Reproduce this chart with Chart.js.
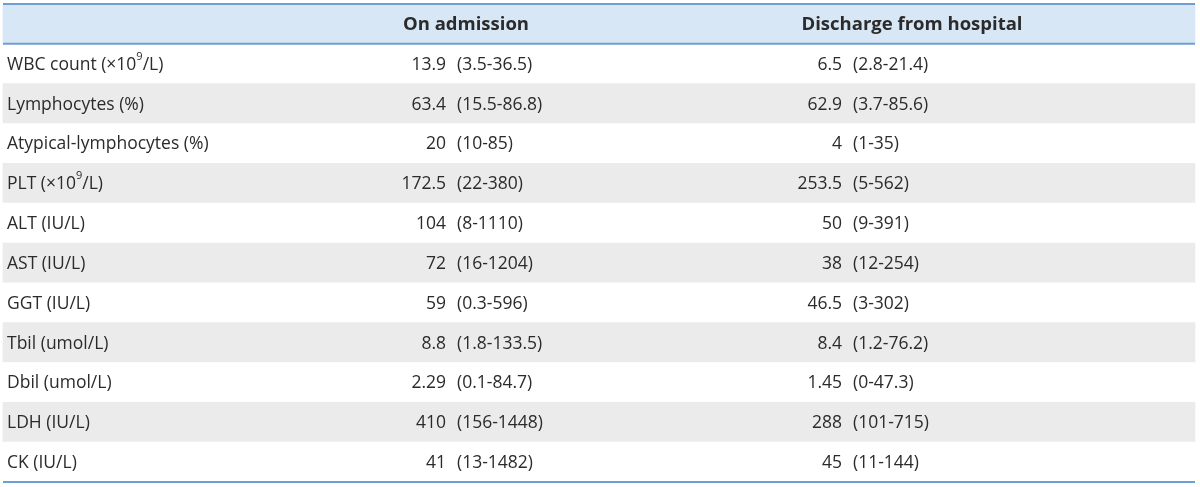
<!DOCTYPE html>
<html>
<head>
<meta charset="utf-8">
<script src="https://cdn.jsdelivr.net/npm/chart.js@4"></script>
<style>
  html, body { margin:0; padding:0; background:#fff; }
  #wrap { width:1200px; height:487px; }
</style>
</head>
<body>
<div id="wrap"><canvas id="myCan"></canvas></div>
<script>
// table content
var headers = ['On admission', 'Discharge from hospital'];
var rowLabels = ['WBC count (\u00d710\u2079/L)', 'Lymphocytes (%)', 'Atypical-lymphocytes (%)', 'PLT (\u00d710\u2079/L)',
  'ALT (IU/L)', 'AST (IU/L)', 'GGT (IU/L)', 'Tbil (umol/L)', 'Dbil (umol/L)', 'LDH (IU/L)', 'CK (IU/L)'];
var admMedian = [13.9, 63.4, 20, 172.5, 104, 72, 59, 8.8, 2.29, 410, 41];
var admLow    = [3.5, 15.5, 10, 22, 8, 16, 0.3, 1.8, 0.1, 156, 13];
var admHigh   = [36.5, 86.8, 85, 380, 1110, 1204, 596, 133.5, 84.7, 1448, 1482];
var disMedian = [6.5, 62.9, 4, 253.5, 50, 38, 46.5, 8.4, 1.45, 288, 45];
var disLow    = [2.8, 3.7, 1, 5, 9, 12, 3, 1.2, 0, 101, 11];
var disHigh   = [21.4, 85.6, 35, 562, 391, 254, 302, 76.2, 47.3, 715, 144];

var txtColor = '#2b2b2b';
var lineColor = '#6f9fd0';
var headFill = '#d8e7f6';
var shadeFill = '#ebebeb';
var fontFam = '"Open Sans", sans-serif';
var bodySize = 17.5, headSize = 18.5;

// column anchors (x scale runs in pixels 0..1200)
var colLabel = 7, admValX = 446, admRngX = 457, disValX = 842, disRngX = 853;
var admHeadX = 466, disHeadX = 912;
var tableL = 3, tableR = 1195;

var cats = [''].concat(rowLabels);
var bandData = cats.map(function(c, i){ return [tableL, tableR]; });
var bandColors = cats.map(function(c, i){
  if (i === 0) return headFill;
  return (i % 2 === 0) ? shadeFill : '#ffffff';
});

function drawLabel(ctx, txt, x, y) {
  // superscript 9 drawn smaller and raised
  var parts = txt.split('\u2079');
  ctx.textAlign = 'left';
  var cx = x;
  parts.forEach(function(p, k){
    ctx.font = bodySize + 'px ' + fontFam;
    ctx.fillText(p, cx, y);
    cx += ctx.measureText(p).width;
    if (k < parts.length - 1) {
      ctx.font = '11px ' + fontFam;
      ctx.fillText('9', cx, y - 8);
      cx += ctx.measureText('9').width;
    }
  });
}

var tablePlugin = {
  id: 'tableText',
  afterDatasetsDraw: function(chart) {
    var ctx = chart.ctx, xs = chart.scales.x, ys = chart.scales.y;
    var band = ys.getPixelForValue(1) - ys.getPixelForValue(0);
    ctx.save();
    ctx.fillStyle = txtColor;
    ctx.textBaseline = 'middle';

    // header
    var hy = ys.getPixelForValue(0) + 1;
    ctx.font = 'bold ' + headSize + 'px ' + fontFam;
    ctx.textAlign = 'center';
    ctx.fillText(headers[0], xs.getPixelForValue(admHeadX), hy);
    ctx.fillText(headers[1], xs.getPixelForValue(disHeadX), hy);

    for (var i = 0; i < rowLabels.length; i++) {
      var y = ys.getPixelForValue(i + 1) + 1;
      drawLabel(ctx, rowLabels[i], xs.getPixelForValue(colLabel), y);
      ctx.font = bodySize + 'px ' + fontFam;
      ctx.textAlign = 'right';
      ctx.fillText(String(admMedian[i]), xs.getPixelForValue(admValX), y);
      ctx.fillText(String(disMedian[i]), xs.getPixelForValue(disValX), y);
      ctx.textAlign = 'left';
      ctx.fillText('(' + admLow[i] + '-' + admHigh[i] + ')', xs.getPixelForValue(admRngX), y);
      ctx.fillText('(' + disLow[i] + '-' + disHigh[i] + ')', xs.getPixelForValue(disRngX), y);
    }

    // rules
    ctx.strokeStyle = lineColor;
    ctx.lineWidth = 2;
    var x0 = xs.getPixelForValue(tableL), x1 = xs.getPixelForValue(tableR);
    [ys.getPixelForValue(0) - band / 2, ys.getPixelForValue(0) + band / 2,
     ys.getPixelForValue(rowLabels.length) + band / 2].forEach(function(ly){
      ctx.beginPath();
      ctx.moveTo(x0, ly);
      ctx.lineTo(x1, ly);
      ctx.stroke();
    });
    ctx.restore();
  }
};

var ctxx = document.getElementById('myCan').getContext('2d');
var tableChart = new Chart(ctxx, {
  type: 'bar',
  data: {
    labels: cats,
    datasets: [{
      data: bandData,
      backgroundColor: bandColors,
      borderWidth: 0,
      barPercentage: 1,
      categoryPercentage: 1
    }]
  },
  options: {
    indexAxis: 'y',
    responsive: true,
    maintainAspectRatio: false,
    animation: false,
    layout: { padding: { top: 4, bottom: 5, left: 0, right: 0 } },
    plugins: { legend: { display: false }, tooltip: { enabled: false }, title: { display: false } },
    scales: {
      x: { type: 'linear', min: 0, max: 1200, display: false },
      y: { type: 'category', display: false, offset: true }
    }
  },
  plugins: [tablePlugin]
});
</script>
</body>
</html>
